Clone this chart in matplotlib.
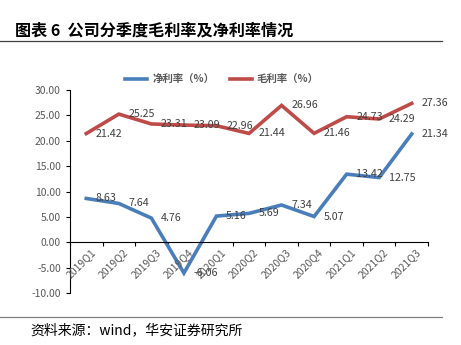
import numpy as np
import matplotlib
matplotlib.use('agg')
from matplotlib import pyplot as plt
from matplotlib.lines import Line2D

plt.rcParams['font.family'] = ['Noto Sans CJK SC', 'DejaVu Sans']

quarters = ['2019Q1', '2019Q2', '2019Q3', '2019Q4', '2020Q1', '2020Q2',
            '2020Q3', '2020Q4', '2021Q1', '2021Q2', '2021Q3']
net_margin = [8.63, 7.64, 4.76, -6.06, 5.16, 5.69, 7.34, 5.07, 13.42, 12.75, 21.34]
gross_margin = [21.42, 25.25, 23.31, 23.09, 22.96, 21.44, 26.96, 21.46, 24.73, 24.29, 27.36]

blue = '#4a7ebb'
red = '#be4b48'
grey = '#595959'

fig = plt.figure(figsize=(4.61, 3.45), dpi=100)

# title and rules
fig.text(15 / 461, 1 - 30 / 345, '图表 6  公司分季度毛利率及净利率情况', fontsize=11.6,
         fontweight='bold', va='center', ha='left', color='black')
fig.add_artist(Line2D([0, 442 / 461], [1 - 41 / 345] * 2, color='#404040', lw=0.9))
fig.add_artist(Line2D([0, 442 / 461], [1 - 317 / 345] * 2, color='#808080', lw=0.9))
fig.text(30 / 461, 1 - 330 / 345, '资料来源：wind，华安证券研究所', fontsize=10,
         va='center', ha='left', color='black')

ax = fig.add_axes([70 / 461, 1 - 293 / 345, 358 / 461, 203 / 345])
x = np.arange(len(quarters))
ax.plot(x, net_margin, color=blue, lw=2.6, label='净利率（%）', solid_joinstyle='miter')
ax.plot(x, gross_margin, color=red, lw=2.6, label='毛利率（%）', solid_joinstyle='miter')

for xi, v in zip(x, net_margin):
    ax.annotate(f'{v:.2f}', (xi, v), xytext=(7, 0), textcoords='offset points',
                fontsize=7.7, color='#404040', va='center', ha='left')
for xi, v in zip(x, gross_margin):
    ax.annotate(f'{v:.2f}', (xi, v), xytext=(7, 0), textcoords='offset points',
                fontsize=7.7, color='#404040', va='center', ha='left')

ax.set_xlim(-0.5, len(quarters) - 0.5)
ax.set_ylim(-10, 30)
ax.set_yticks(np.arange(-10, 31, 5))
ax.set_yticklabels([f'{t:.2f}' for t in np.arange(-10, 31, 5)])
ax.tick_params(axis='y', labelsize=7.5, labelcolor=grey, length=3, width=0.8, direction='out')

# x axis sits on zero with tick marks between categories
ax.spines['bottom'].set_position(('data', 0))
ax.spines['top'].set_visible(False)
ax.spines['right'].set_visible(False)
ax.spines['left'].set_color('black')
ax.spines['bottom'].set_color('black')
ax.set_xticks(x)
ax.set_xticklabels([])
ax.set_xticks(np.arange(-0.5, len(quarters)), minor=True)
ax.tick_params(axis='x', which='major', length=0)
ax.tick_params(axis='x', which='minor', length=3, width=0.8, direction='out')
for xi, q in zip(x, quarters):
    ax.text(xi + 0.12, -1.0, q, rotation=45, ha='right', va='top', fontsize=7.5,
            color=grey, rotation_mode='anchor')

leg = fig.legend(loc='center', bbox_to_anchor=(222 / 461, 1 - 80 / 345), ncol=2,
                 frameon=False, fontsize=7.5, handlelength=2.1, handletextpad=0.5,
                 columnspacing=1.5, labelcolor=grey)
for t in leg.get_texts():
    t.set_fontweight('bold')

fig.savefig('out.png', dpi=100)
